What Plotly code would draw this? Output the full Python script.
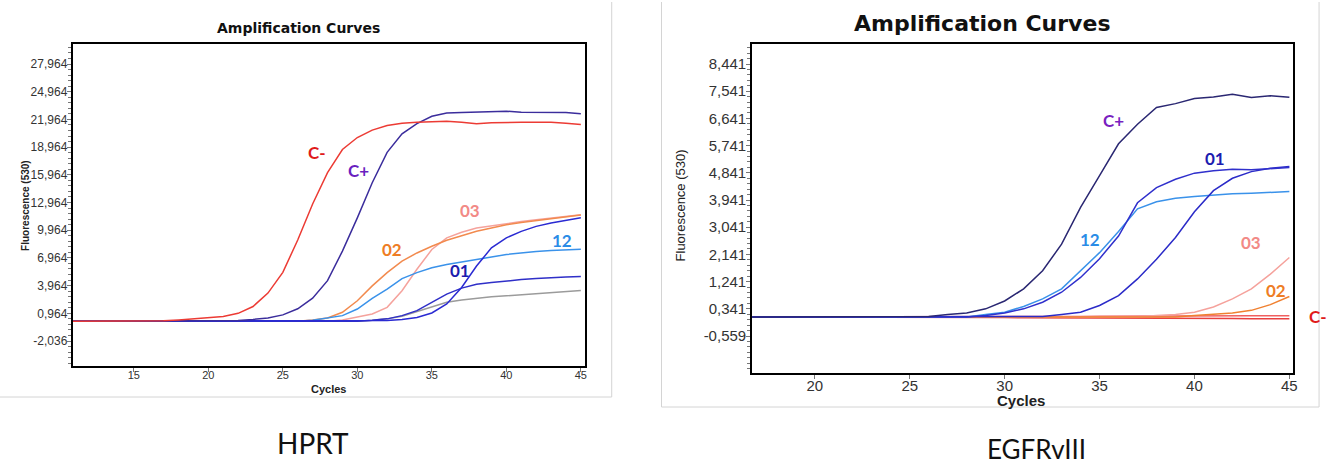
import plotly.graph_objects as go

W, H = 1340, 466

# ---------------- HPRT (left) ----------------
cycles_hprt = list(range(10, 46))
hprt_cneg = [100, 100, 100, 100, 100, 100, 100, 150, 250, 350, 460, 620, 960, 1700, 3150, 5400, 8900,
             12800, 16200, 18700, 20000, 20800, 21300, 21550, 21650, 21700, 21750, 21650, 21500, 21600,
             21650, 21650, 21650, 21650, 21550, 21400]
hprt_cpos = [100] * 12 + [180, 300, 460, 790, 1450, 2600, 4500, 7700, 11300, 15100, 18400, 20400, 21500,
                          22300, 22650, 22700, 22750, 22780, 22850, 22750, 22750, 22720, 22700, 22570]
hprt_02 = [100] * 17 + [250, 460, 1070, 2320, 3930, 5370, 6620, 7500, 8230, 8870, 9370, 9840, 10200,
                        10560, 10800, 11000, 11200, 11400, 11600]
hprt_03 = [100] * 19 + [250, 530, 890, 1610, 3400, 5730, 7870, 9130, 9740, 10200, 10450, 10670, 10900,
                        11100, 11300, 11450, 11650]
hprt_12 = [100] * 17 + [200, 430, 710, 1430, 2580, 3580, 4720, 5370, 5900, 6260, 6550, 6800, 7050, 7330,
                        7510, 7660, 7770, 7870, 7910]
hprt_01a = [100] * 21 + [200, 360, 710, 1250, 2150, 3040, 3690, 4120, 4290, 4470, 4620, 4720, 4830, 4900, 4940]
hprt_01b = [100] * 22 + [180, 280, 500, 1000, 1970, 3760, 6080, 8050, 9130, 9840, 10380, 10740, 11000, 11300]
hprt_gray = [100] * 21 + [200, 360, 640, 1140, 1720, 2150, 2400, 2610, 2750, 2860, 2970, 3080, 3180, 3300, 3430]

hprt_tickvals = [-2036, 964, 3964, 6964, 9964, 12964, 15964, 18964, 21964, 24964, 27964]
hprt_ticktext = ["-2,036", "0,964", "3,964", "6,964", "9,964", "12,964", "15,964", "18,964",
                 "21,964", "24,964", "27,964"]

# ---------------- EGFRvIII (right) ----------------
cycles_egfr = list(range(16, 46))
egfr_cpos = [70] * 10 + [90, 155, 200, 340, 600, 1000, 1600, 2480, 3700, 4750, 5800, 6450, 7000, 7130,
                         7300, 7350, 7440, 7330, 7390, 7340]
egfr_01a = [70] * 13 + [120, 200, 340, 560, 890, 1380, 2000, 2750, 3850, 4350, 4630, 4830, 4910, 4960,
                        4940, 4990, 5020]
egfr_01b = [70] * 16 + [90, 155, 230, 450, 780, 1330, 1980, 2700, 3550, 4250, 4660, 4880, 4990, 5050]
egfr_12 = [70] * 13 + [155, 230, 420, 670, 1000, 1600, 2200, 2900, 3650, 3880, 4000, 4060, 4110, 4145,
                       4165, 4190, 4220]
egfr_03 = [70] * 22 + [120, 155, 230, 400, 670, 1000, 1490, 2040]
egfr_02 = [70] * 24 + [120, 155, 200, 290, 480, 750]
egfr_cneg_a = [70] * 15 + [80, 85, 85, 90, 95, 100, 100, 105, 105, 110, 110, 110, 115, 115, 115]
egfr_cneg_b = [70] * 12 + [60, 55, 50, 45, 45, 40, 40, 35, 35, 30, 30, 25, 25, 20, 20, 15, 15, 15]

egfr_tickvals = [-559, 341, 1241, 2141, 3041, 3941, 4841, 5741, 6641, 7541, 8441]
egfr_ticktext = ["-0,559", "0,341", "1,241", "2,141", "3,041", "3,941", "4,841", "5,741", "6,641",
                 "7,541", "8,441"]


def px_x(p):
    return p / W


def px_y(p):
    return 1 - p / H


fig = go.Figure()

left_series = [
    (hprt_gray, "#9b9b9b"),
    (hprt_03, "#f5a29c"),
    (hprt_02, "#f28a4e"),
    (hprt_12, "#3a92ea"),
    (hprt_01a, "#2f2fc8"),
    (hprt_01b, "#2a2ad2"),
    (hprt_cpos, "#3b2d9c"),
    (hprt_cneg, "#ec3b34"),
]
for ys, col in left_series:
    fig.add_trace(go.Scatter(x=cycles_hprt, y=ys, mode="lines", line=dict(color=col, width=1.5),
                             xaxis="x", yaxis="y", showlegend=False, hoverinfo="skip"))

right_series = [
    (egfr_cneg_b, "#e84040"),
    (egfr_cneg_a, "#f06060"),
    (egfr_03, "#f5a29c"),
    (egfr_02, "#f08030"),
    (egfr_12, "#3a92ea"),
    (egfr_01b, "#2b2bc8"),
    (egfr_01a, "#3030cc"),
    (egfr_cpos, "#2a2772"),
]
for ys, col in right_series:
    fig.add_trace(go.Scatter(x=cycles_egfr, y=ys, mode="lines", line=dict(color=col, width=1.5),
                             xaxis="x2", yaxis="y2", showlegend=False, hoverinfo="skip"))

sans = "Liberation Sans, Arial, sans-serif"
tickfont_l = dict(family=sans, size=12, color="#333")
tickfont_r = dict(family=sans, size=15, color="#333")

axis_common = dict(showline=True, mirror=True, linecolor="black", linewidth=2, showgrid=False,
                   zeroline=False, ticks="outside", ticklen=4, tickcolor="#777", tickwidth=1)

fig.update_layout(
    width=W, height=H,
    margin=dict(l=0, r=0, t=0, b=0),
    paper_bgcolor="white", plot_bgcolor="white",
    xaxis=dict(domain=[px_x(73), px_x(587.5)], range=[10.9, 45.3], anchor="y",
               tickvals=[15, 20, 25, 30, 35, 40, 45], tickfont=dict(family=sans, size=11, color="#333"),
               ticklabelstandoff=-6, **axis_common),
    yaxis=dict(domain=[px_y(366), px_y(44)], range=[-4744, 30130], anchor="x",
               tickmode="array", tickvals=hprt_tickvals, ticktext=hprt_ticktext, tickfont=tickfont_l,
               ticklabelstandoff=-3,
               minor=dict(tickmode="linear", tick0=-2036, dtick=600, ticks="outside", ticklen=3,
                          tickcolor="#777"),
               **axis_common),
    xaxis2=dict(domain=[px_x(755), px_x(1298)], range=[16.7, 45.2], anchor="y2",
                tickvals=[20, 25, 30, 35, 40, 45], tickfont=tickfont_r, ticklabelstandoff=-6, **axis_common),
    yaxis2=dict(domain=[px_y(372.7), px_y(44)], range=[-1773, 9103], anchor="x2",
                tickmode="array", tickvals=egfr_tickvals, ticktext=egfr_ticktext, tickfont=tickfont_r,
                ticklabelstandoff=-3,
                minor=dict(tickmode="linear", tick0=-559, dtick=180, ticks="outside", ticklen=3,
                           tickcolor="#777"),
                **axis_common),
)

ann = []


def paper_text(text, x, y, font, angle=0):
    ann.append(dict(text=text, x=px_x(x), y=px_y(y), xref="paper", yref="paper", showarrow=False,
                    xanchor="center", yanchor="middle", textangle=angle, font=font))


# Titles
paper_text("<b>Amplification Curves</b>", 300, 28, dict(family="DejaVu Sans, sans-serif", size=14, color="#111"))
paper_text("<b>Amplification Curves</b>", 986, 23, dict(family="DejaVu Sans, sans-serif", size=22, color="#111"))
# Axis titles
paper_text("<b>Cycles</b>", 330, 389, dict(family=sans, size=11, color="#222"))
paper_text("<b>Cycles</b>", 1025, 400, dict(family=sans, size=15, color="#222"))
paper_text("<b>Fluorescence (530)</b>", 25, 205, dict(family=sans, size=10, color="#222"), -90)
paper_text("Fluorescence (530)", 683, 205, dict(family=sans, size=13, color="#222"), -90)

# Series labels
lab_font = "Lato, Noto Sans, sans-serif"
left_labels = [("C-", 27.3, 18430, "#e01b1b"), ("C+", 30.1, 16480, "#6a1fc0"), ("03", 37.55, 12150, "#f28a86"),
               ("02", 32.3, 7820, "#ee7d25"), ("01", 36.9, 5650, "#1c1cae"), ("12", 43.75, 8900, "#2a8ce6")]
for t, xv, yv, c in left_labels:
    ann.append(dict(text="<b>%s</b>" % t, x=xv, y=yv, xref="x", yref="y", showarrow=False,
                    xanchor="center", yanchor="middle", font=dict(family=lab_font, size=17, color=c)))
right_labels = [("C+", 35.75, 6585, "#7a1fc0"), ("01", 41.1, 5303, "#1c1cb0"), ("12", 34.5, 2626, "#2a8ce6"),
                ("03", 43.0, 2527, "#f28a86"), ("02", 44.3, 944, "#ee7d25")]
for t, xv, yv, c in right_labels:
    ann.append(dict(text="<b>%s</b>" % t, x=xv, y=yv, xref="x2", yref="y2", showarrow=False,
                    xanchor="center", yanchor="middle", font=dict(family=lab_font, size=17, color=c)))
# C- label of the right chart sits outside the plot area
paper_text("<b>C-</b>", 1323, 316, dict(family=lab_font, size=17, color="#e01b1b"))

# Bottom captions
paper_text("HPRT", 314, 443, dict(family="Lato, Noto Sans, sans-serif", size=28, color="#111"))
paper_text("EGFRvIII", 1040, 449, dict(family="Lato, Noto Sans, sans-serif", size=26, color="#111"))
fig.update_layout(annotations=ann)

# Panel borders
border = dict(color="#d4d4d4", width=1)
shapes = [
    dict(type="line", xref="paper", yref="paper", x0=px_x(614), x1=px_x(614), y0=px_y(2), y1=px_y(397),
         line=border),
    dict(type="line", xref="paper", yref="paper", x0=0, x1=px_x(614), y0=px_y(397), y1=px_y(397), line=border),
    dict(type="line", xref="paper", yref="paper", x0=px_x(664), x1=px_x(664), y0=px_y(2), y1=px_y(407),
         line=border),
    dict(type="line", xref="paper", yref="paper", x0=px_x(1324), x1=px_x(1324), y0=px_y(2), y1=px_y(407),
         line=border),
    dict(type="line", xref="paper", yref="paper", x0=px_x(664), x1=px_x(1324), y0=px_y(407), y1=px_y(407),
         line=border),
]
fig.update_layout(shapes=shapes)

fig.write_html("out.html", config={"displayModeBar": False},
               post_script="document.body.style.margin='0';document.body.style.overflow='hidden';")
